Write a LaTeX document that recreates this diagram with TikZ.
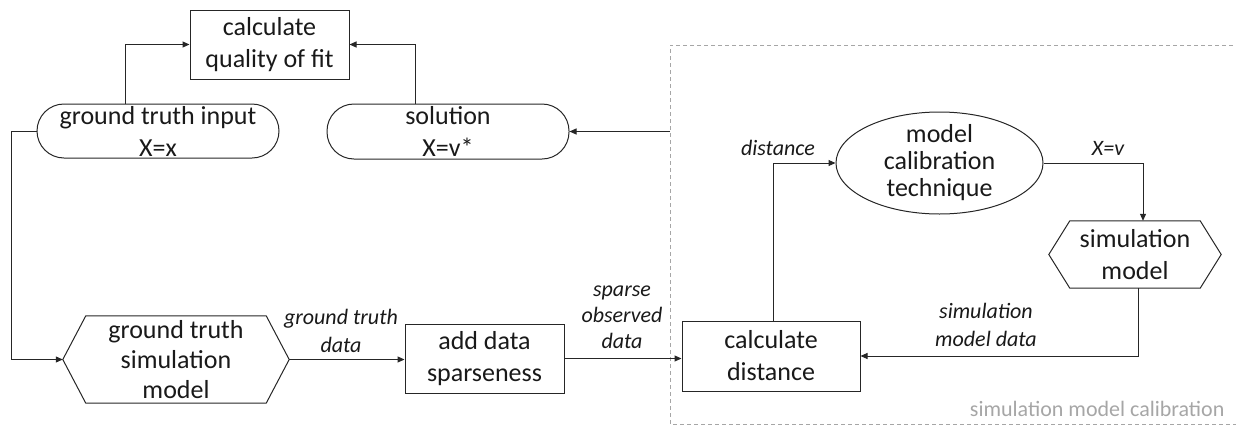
\documentclass[tikz,border=0pt]{standalone}
\usepackage{fontspec}
\setmainfont{Carlito}
\usetikzlibrary{arrows.meta,shapes.geometric}
\definecolor{lineblk}{HTML}{262626}
\definecolor{dashgray}{HTML}{A6A6A6}
\begin{document}
\begin{tikzpicture}[x=1pt,y=-1pt,
 shapebox/.style={draw=lineblk, line width=1pt, inner sep=0pt},
 rectbox/.style={shapebox, rectangle},
 stadium/.style={shapebox, rectangle, rounded corners=27pt},
 ellbox/.style={shapebox, ellipse},
 anchorbox/.style={inner sep=0pt, rectangle},
 hexline/.style={draw=lineblk, line width=1pt},
 txt/.style={align=center, font=\fontsize{26}{32}\selectfont, text=black!90},
 lbl/.style={align=center, font=\fontsize{22}{28}\selectfont\itshape, text=black!90},
 arr/.style={draw=lineblk, line width=1pt, -{Triangle[length=7pt,width=6pt]}},
 calibframe/.style={draw=dashgray, line width=0.8pt, dash pattern=on 4pt off 3pt},
]
\useasboundingbox (0,0) rectangle (1236,426);

% frame of the calibration part
\draw[calibframe] (1240,45) -- (670,45) -- (670,424) -- (1240,424);
\coordinate (border) at (670,131.5);
\node[anchor=east, font=\fontsize{22}{26}\selectfont, text=dashgray] (frameT) at (1228,409) {simulation model calibration};

% nodes
\node[rectbox, minimum width=159pt, minimum height=69pt] (qfit) at (269.5,44.5) {};
\node[txt] (qfitT) at (qfit) {calculate\\quality of fit};

\node[stadium, minimum width=242pt, minimum height=54pt] (gtin) at (158,131) {};
\node[txt] (gtinT) at (gtin) {ground truth input\\X=x};

\node[stadium, minimum width=242pt, minimum height=55pt] (sol) at (448,131.5) {};
\node[txt] (solT) at (sol) {solution\\X=v*};

\node[anchorbox, minimum width=226pt, minimum height=87pt] (gtsim) at (176,359.5) {};
\draw[hexline] (gtsim.west) -- ([xshift=23pt]gtsim.north west) -- ([xshift=-23pt]gtsim.north east) -- (gtsim.east) -- ([xshift=-23pt]gtsim.south east) -- ([xshift=23pt]gtsim.south west) -- cycle;
\node[txt, font=\fontsize{26}{30}\selectfont] (gtsimT) at (gtsim) {ground truth\\simulation\\model};

\node[rectbox, minimum width=159pt, minimum height=69pt] (add) at (484.5,358.5) {};
\node[txt] (addT) at (add) {add data\\sparseness};

\node[rectbox, minimum width=178pt, minimum height=70pt] (cd) at (771,356) {};
\node[txt] (cdT) at (cd) {calculate\\distance};

\node[ellbox, minimum width=207pt, minimum height=102pt] (mct) at (939.5,163) {};
\node[txt, font=\fontsize{26}{27}\selectfont] (mctT) at (mct) {model\\calibration\\technique};

\node[anchorbox, minimum width=172pt, minimum height=67pt] (sm) at (1135,254.5) {};
\draw[hexline] (sm.west) -- ([xshift=21pt]sm.north west) -- ([xshift=-21pt]sm.north east) -- (sm.east) -- ([xshift=-21pt]sm.south east) -- ([xshift=21pt]sm.south west) -- cycle;
\node[txt] (smT) at (sm) {simulation\\model};

% connectors
\draw[arr] ([xshift=-33pt]gtin.north) |- (qfit.west);
\draw[arr] ([xshift=-33pt]sol.north) |- (qfit.east);
\draw[arr] (border) -- (sol.east);
\draw[arr] (gtin.west) -- ++(-25,0) |- (gtsim.west);
\draw[arr] (gtsim.east) -- (gtsim.east -| add.west);
\draw[arr] (add.east) -- (add.east -| cd.west);
\draw[arr] ([xshift=2pt]cd.north) |- (mct.west);
\draw[arr] (mct.east) -| ([xshift=8pt]sm.north);
\draw[arr] ([xshift=3pt]sm.south) |- (cd.east);

% labels
\node[lbl] (l1) at (341,331) {ground truth\\data};
\node[lbl, font=\fontsize{22}{26}\selectfont\itshape] (l2) at (622,317) {sparse\\observed\\data};
\node[lbl] (l3) at (778,148) {distance};
\node[lbl] (l4) at (1108,148) {X=v};
\node[lbl] (l5) at (986,325) {simulation\\model data};
\end{tikzpicture}
\end{document}
